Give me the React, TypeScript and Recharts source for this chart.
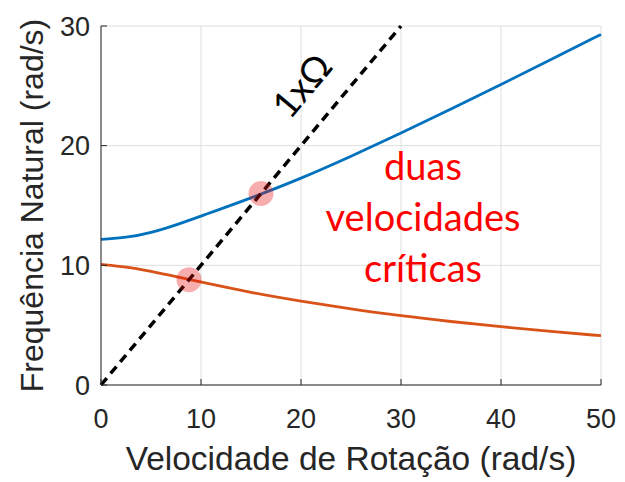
import {
  CartesianGrid,
  ComposedChart,
  Line,
  ReferenceDot,
  Scatter,
  XAxis,
  YAxis,
} from "recharts";

// rotor speed (rad/s) and the two natural frequencies of the Campbell diagram
const speeds = [0, 2.5, 5, 7.5, 10, 15, 20, 25, 30, 35, 40, 45, 50];
const forwardMode = [12.17, 12.3, 12.72, 13.37, 14.12, 15.62, 17.25, 19.1, 21.05, 23.05, 25.1, 27.2, 29.3];
const backwardMode = [10.08, 9.88, 9.5, 9.05, 8.6, 7.72, 7.0, 6.35, 5.77, 5.3, 4.87, 4.47, 4.12];

// 1x synchronous excitation line
const syncSpeeds = [0, 30];
const syncFreqs = [0, 30];

// intersections of the 1x line with each mode
const criticalSpeeds = [8.8, 16.0];
const criticalFreqs = [8.8, 16.0];

const xTicks = [0, 10, 20, 30, 40, 50];
const yTicks = [0, 10, 20, 30];

const chartData = speeds.map((speed, i) => ({
  speed,
  forward: forwardMode[i],
  backward: backwardMode[i],
}));
const syncData = syncSpeeds.map((speed, i) => ({ speed, sync: syncFreqs[i] }));
const criticalData = criticalSpeeds.map((speed, i) => ({
  speed,
  freq: criticalFreqs[i],
}));

const AXIS_COLOR = "#262626";
const TICK_FONT = {
  fill: AXIS_COLOR,
  fontSize: 27,
  fontFamily: "'Liberation Sans', Arial, sans-serif",
};
const NOTE_FONT = "Lato, 'DejaVu Sans', sans-serif";

function SyncLabel({ viewBox }: { viewBox?: { x: number; y: number } }) {
  if (!viewBox) return null;
  return (
    <text
      x={viewBox.x}
      y={viewBox.y}
      transform={`rotate(-50 ${viewBox.x} ${viewBox.y})`}
      textAnchor="middle"
      dominantBaseline="central"
      fontFamily={NOTE_FONT}
      fontSize={37}
      fill="#000"
    >
      1xΩ
    </text>
  );
}

function CriticalNote({ viewBox }: { viewBox?: { x: number; y: number } }) {
  if (!viewBox) return null;
  const lines = ["duas", "velocidades", "críticas"];
  return (
    <text
      x={viewBox.x}
      y={viewBox.y}
      textAnchor="middle"
      fontFamily={NOTE_FONT}
      fontSize={38}
      fill="#ff0000"
    >
      {lines.map((line, i) => (
        <tspan key={line} x={viewBox.x} y={viewBox.y + (i - 1) * 51}>
          {line}
        </tspan>
      ))}
    </text>
  );
}

function CriticalMarker({ cx, cy }: { cx?: number; cy?: number }) {
  if (cx == null || cy == null) return null;
  return <circle cx={cx} cy={cy} r={12.5} fill="#e81010" fillOpacity={0.34} />;
}

export default function App() {
  return (
    <div style={{ position: "absolute", left: 0, top: 0, background: "#fff" }}>
      <ComposedChart
        width={625}
        height={482}
        data={chartData}
        margin={{ top: 26, right: 24, bottom: 0, left: 0 }}
      >
        <CartesianGrid stroke="#dedede" strokeWidth={1} />
        <XAxis
          dataKey="speed"
          type="number"
          domain={[0, 50]}
          ticks={xTicks}
          height={97}
          stroke={AXIS_COLOR}
          tick={TICK_FONT}
          tickSize={-6}
          tickMargin={30}
          label={{
            value: "Velocidade de Rotação (rad/s)",
            position: "insideBottom",
            offset: 12,
            style: { ...TICK_FONT, fontSize: 33.5, textAnchor: "middle" },
          }}
        />
        <XAxis
          xAxisId="top"
          orientation="top"
          type="number"
          domain={[0, 50]}
          ticks={xTicks}
          height={0}
          stroke={AXIS_COLOR}
          tick={false}
          tickSize={-6}
        />
        <YAxis
          type="number"
          domain={[0, 30]}
          ticks={yTicks}
          width={101}
          stroke={AXIS_COLOR}
          tick={TICK_FONT}
          tickSize={-6}
          tickMargin={17}
          label={{
            value: "Frequência Natural (rad/s)",
            angle: -90,
            position: "insideLeft",
            offset: 32,
            style: { ...TICK_FONT, fontSize: 32, textAnchor: "middle" },
          }}
        />
        <YAxis
          yAxisId="right"
          orientation="right"
          type="number"
          domain={[0, 30]}
          ticks={yTicks}
          width={0}
          stroke={AXIS_COLOR}
          tick={false}
          tickSize={-6}
        />
        <Line
          type="basis"
          dataKey="forward"
          stroke="#0072BD"
          strokeWidth={2.8}
          dot={false}
          activeDot={false}
          isAnimationActive={false}
        />
        <Line
          type="basis"
          dataKey="backward"
          stroke="#D95319"
          strokeWidth={2.8}
          dot={false}
          activeDot={false}
          isAnimationActive={false}
        />
        <Line
          data={syncData}
          type="linear"
          dataKey="sync"
          stroke="#000"
          strokeWidth={3.5}
          strokeDasharray="9 6"
          dot={false}
          activeDot={false}
          isAnimationActive={false}
        />
        <Scatter
          data={criticalData}
          dataKey="freq"
          shape={<CriticalMarker />}
          isAnimationActive={false}
        />
        <ReferenceDot x={20.0} y={25.1} r={0} label={<SyncLabel />} />
        <ReferenceDot x={32.2} y={12.9} r={0} label={<CriticalNote />} />
      </ComposedChart>
    </div>
  );
}
